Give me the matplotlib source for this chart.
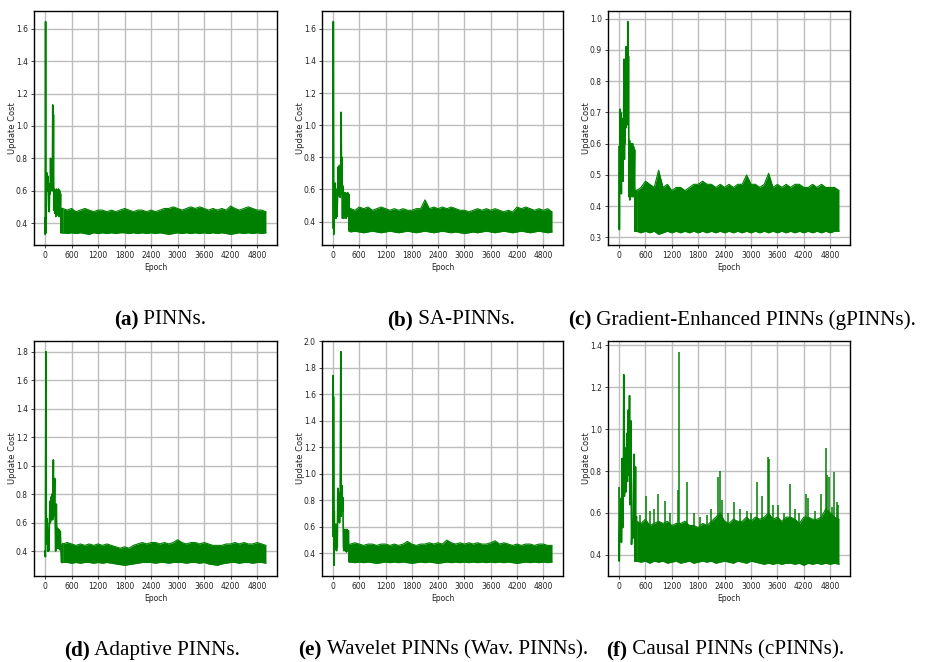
import numpy as np
import matplotlib
matplotlib.use("Agg")
import matplotlib.pyplot as plt
from matplotlib.transforms import IdentityTransform

# ---------------- data ----------------
xticks = [0, 600, 1200, 1800, 2400, 3000, 3600, 4200, 4800]
band_x = np.arange(400, 5001, 100)

# (a) PINNs
a_early_x = [0, 5, 12, 18, 25, 35, 45, 55, 65, 80, 95, 105, 115, 125, 135, 145, 155, 165, 175, 182,
             190, 198, 210, 220, 235, 245, 260, 270, 285, 295, 305, 315, 330, 340, 350, 360, 370, 380, 390, 400]
a_early_y = [0.43, 0.33, 1.645, 0.34, 0.70, 0.62, 0.71, 0.60, 0.69, 0.50, 0.47, 0.64, 0.58, 0.80, 0.62, 0.78,
             0.60, 0.62, 1.13, 0.60, 1.07, 0.48, 0.61, 0.46, 0.60, 0.44, 0.61, 0.45, 0.60, 0.45, 0.61, 0.44,
             0.60, 0.46, 0.58, 0.34, 0.48, 0.34, 0.49, 0.34]
a_hi = [0.49, 0.48, 0.49, 0.47, 0.48, 0.49, 0.48, 0.47, 0.48, 0.48,
        0.47, 0.48, 0.47, 0.48, 0.49, 0.48, 0.47, 0.48, 0.48, 0.47,
        0.48, 0.47, 0.48, 0.49, 0.49, 0.50, 0.49, 0.48, 0.49, 0.50,
        0.49, 0.50, 0.49, 0.48, 0.49, 0.48, 0.49, 0.48, 0.505, 0.49,
        0.48, 0.49, 0.50, 0.49, 0.48, 0.48, 0.47]
a_lo = [0.34, 0.335, 0.34, 0.335, 0.34, 0.335, 0.33, 0.34, 0.335, 0.34,
        0.335, 0.34, 0.335, 0.34, 0.34, 0.335, 0.34, 0.335, 0.34, 0.335,
        0.34, 0.335, 0.34, 0.335, 0.33, 0.335, 0.34, 0.335, 0.34, 0.335,
        0.34, 0.335, 0.34, 0.335, 0.34, 0.335, 0.34, 0.335, 0.33, 0.335,
        0.34, 0.335, 0.34, 0.335, 0.34, 0.335, 0.34]

# (b) SA-PINNs
b_early_x = [0, 8, 20, 28, 36, 44, 52, 68, 80, 90, 105, 120, 135, 150, 165, 180, 188, 195, 202, 210,
             218, 233, 248, 260, 272, 285, 298, 310, 322, 335, 348, 360, 370, 380, 390, 400]
b_early_y = [0.36, 1.645, 0.32, 0.63, 0.50, 0.60, 0.64, 0.42, 0.60, 0.43, 0.55, 0.74, 0.56, 0.75, 0.55,
             0.62, 1.08, 0.60, 0.80, 0.50, 0.42, 0.62, 0.42, 0.58, 0.43, 0.58, 0.42, 0.57, 0.43, 0.58,
             0.44, 0.57, 0.34, 0.47, 0.34, 0.48]
b_hi = [0.48, 0.47, 0.49, 0.48, 0.49, 0.47, 0.48, 0.49, 0.48, 0.47,
        0.48, 0.47, 0.48, 0.47, 0.47, 0.48, 0.48, 0.535, 0.48, 0.49,
        0.48, 0.49, 0.48, 0.49, 0.48, 0.47, 0.47, 0.46, 0.47, 0.48,
        0.47, 0.48, 0.47, 0.48, 0.47, 0.46, 0.47, 0.46, 0.49, 0.48,
        0.49, 0.48, 0.47, 0.48, 0.47, 0.48, 0.46]
b_lo = [0.335, 0.34, 0.335, 0.33, 0.335, 0.34, 0.335, 0.33, 0.335, 0.34,
        0.335, 0.33, 0.335, 0.34, 0.335, 0.33, 0.335, 0.34, 0.335, 0.33,
        0.335, 0.34, 0.335, 0.33, 0.335, 0.33, 0.325, 0.33, 0.335, 0.33,
        0.335, 0.34, 0.335, 0.33, 0.335, 0.34, 0.335, 0.33, 0.335, 0.34,
        0.335, 0.33, 0.335, 0.34, 0.335, 0.33, 0.335]

# (c) Gradient-Enhanced PINNs
c_early_x = [0, 8, 15, 23, 31, 38, 46, 54, 62, 69, 85, 92, 100, 108, 115, 123, 131, 139, 146, 154,
             162, 169, 185, 192, 200, 208, 215, 223, 231, 239, 246, 262, 269, 285, 292, 308, 315, 331,
             339, 354, 362, 375, 388, 400]
c_early_y = [0.59, 0.325, 0.50, 0.71, 0.55, 0.70, 0.52, 0.44, 0.68, 0.50, 0.66, 0.48, 0.64, 0.74, 0.87,
             0.55, 0.85, 0.60, 0.86, 0.65, 0.91, 0.68, 0.88, 0.70, 0.99, 0.66, 0.88, 0.60, 0.43, 0.61,
             0.42, 0.60, 0.43, 0.60, 0.44, 0.60, 0.43, 0.59, 0.44, 0.58, 0.32, 0.45, 0.32, 0.45]
c_hi = [0.45, 0.46, 0.48, 0.47, 0.46, 0.515, 0.46, 0.47, 0.45, 0.46,
        0.46, 0.45, 0.46, 0.47, 0.47, 0.48, 0.47, 0.47, 0.46, 0.47,
        0.46, 0.47, 0.46, 0.47, 0.47, 0.50, 0.47, 0.47, 0.46, 0.47,
        0.505, 0.46, 0.47, 0.46, 0.47, 0.46, 0.47, 0.47, 0.46, 0.46,
        0.47, 0.46, 0.47, 0.46, 0.46, 0.46, 0.45]
c_lo = [0.32, 0.315, 0.32, 0.315, 0.32, 0.31, 0.315, 0.32, 0.315, 0.32,
        0.315, 0.32, 0.315, 0.32, 0.315, 0.32, 0.315, 0.32, 0.315, 0.32,
        0.315, 0.32, 0.315, 0.32, 0.315, 0.32, 0.315, 0.32, 0.315, 0.32,
        0.315, 0.32, 0.315, 0.32, 0.315, 0.32, 0.315, 0.32, 0.315, 0.32,
        0.315, 0.32, 0.315, 0.32, 0.315, 0.32, 0.32]

# (d) Adaptive PINNs
d_early_x = [0, 8, 20, 28, 38, 45, 52, 60, 75, 82, 98, 112, 120, 135, 142, 158, 172, 188, 195, 202,
             218, 225, 240, 255, 270, 285, 300, 315, 330, 345, 360, 375, 385, 392, 400]
d_early_y = [0.40, 0.36, 1.80, 0.53, 0.63, 0.45, 0.60, 0.40, 0.55, 0.40, 0.58, 0.75, 0.60, 0.78, 0.62,
             0.80, 0.62, 1.04, 0.75, 0.65, 0.91, 0.70, 0.40, 0.73, 0.42, 0.56, 0.42, 0.55, 0.41, 0.54,
             0.40, 0.32, 0.44, 0.32, 0.45]
d_hi = [0.45, 0.46, 0.45, 0.44, 0.45, 0.44, 0.45, 0.44, 0.45, 0.44,
        0.45, 0.44, 0.43, 0.42, 0.43, 0.42, 0.44, 0.45, 0.46, 0.45,
        0.46, 0.46, 0.45, 0.46, 0.45, 0.46, 0.48, 0.46, 0.45, 0.46,
        0.46, 0.45, 0.46, 0.45, 0.44, 0.44, 0.44, 0.45, 0.45, 0.46,
        0.45, 0.46, 0.45, 0.45, 0.46, 0.45, 0.44]
d_lo = [0.32, 0.32, 0.315, 0.32, 0.315, 0.32, 0.32, 0.315, 0.32, 0.315,
        0.32, 0.315, 0.31, 0.305, 0.30, 0.305, 0.31, 0.315, 0.32, 0.32,
        0.32, 0.315, 0.32, 0.32, 0.315, 0.32, 0.32, 0.32, 0.315, 0.32,
        0.32, 0.315, 0.32, 0.31, 0.305, 0.30, 0.31, 0.315, 0.32, 0.32,
        0.315, 0.32, 0.32, 0.315, 0.32, 0.32, 0.315]

# (e) Wavelet PINNs
e_early_x = [0, 5, 10, 12, 15, 22, 30, 38, 45, 60, 68, 82, 90, 98, 112, 120, 135, 150, 165, 180,
             188, 195, 210, 218, 225, 240, 248, 262, 278, 292, 308, 322, 338, 352, 368, 382, 392, 400]
e_early_y = [0.53, 1.74, 0.60, 1.58, 0.72, 0.31, 0.72, 0.50, 0.60, 0.43, 0.62, 0.42, 0.60, 0.45, 0.89,
             0.65, 0.86, 0.63, 0.80, 1.92, 0.68, 0.85, 0.91, 0.72, 0.82, 0.45, 0.42, 0.58, 0.42, 0.58,
             0.41, 0.58, 0.42, 0.57, 0.335, 0.46, 0.335, 0.46]
e_hi = [0.47, 0.48, 0.47, 0.46, 0.47, 0.47, 0.46, 0.47, 0.47, 0.46,
        0.47, 0.46, 0.47, 0.49, 0.47, 0.46, 0.47, 0.47, 0.48, 0.47,
        0.48, 0.47, 0.50, 0.48, 0.47, 0.48, 0.47, 0.48, 0.47, 0.48,
        0.47, 0.47, 0.48, 0.495, 0.47, 0.48, 0.47, 0.46, 0.47, 0.46,
        0.47, 0.47, 0.46, 0.47, 0.47, 0.46, 0.46]
e_lo = [0.335, 0.33, 0.335, 0.33, 0.335, 0.33, 0.325, 0.33, 0.335, 0.33,
        0.335, 0.33, 0.335, 0.33, 0.325, 0.33, 0.335, 0.33, 0.335, 0.33,
        0.325, 0.33, 0.335, 0.33, 0.335, 0.33, 0.335, 0.33, 0.335, 0.33,
        0.335, 0.33, 0.335, 0.33, 0.335, 0.33, 0.335, 0.33, 0.325, 0.33,
        0.335, 0.33, 0.335, 0.33, 0.335, 0.33, 0.335]

# (f) Causal PINNs
f_early_x = [0, 5, 20, 35, 50, 55, 70, 85, 100, 108, 123, 139, 154, 177, 192, 208, 223, 239, 254, 270,
             285, 300, 316, 331, 346, 360, 375, 385, 400]
f_early_y = [0.72, 0.37, 0.60, 0.47, 0.67, 0.46, 0.86, 0.53, 0.74, 1.26, 0.68, 0.91, 0.70, 0.98, 0.75,
             1.09, 0.78, 1.16, 0.64, 1.04, 0.45, 0.55, 0.48, 0.75, 0.88, 0.37, 0.82, 0.37, 0.58]
f_hi = [0.56, 0.55, 0.57, 0.54, 0.55, 0.56, 0.55, 0.56, 0.54, 0.55,
        0.55, 0.56, 0.54, 0.54, 0.53, 0.55, 0.54, 0.56, 0.58, 0.60,
        0.56, 0.55, 0.57, 0.56, 0.56, 0.58, 0.56, 0.58, 0.57, 0.58,
        0.60, 0.57, 0.58, 0.56, 0.58, 0.58, 0.57, 0.55, 0.58, 0.58,
        0.57, 0.57, 0.58, 0.62, 0.60, 0.58, 0.57]
f_lo = [0.37, 0.365, 0.37, 0.36, 0.37, 0.365, 0.37, 0.36, 0.365, 0.37,
        0.36, 0.365, 0.37, 0.36, 0.365, 0.37, 0.365, 0.37, 0.36, 0.365,
        0.37, 0.365, 0.36, 0.37, 0.365, 0.36, 0.37, 0.365, 0.36, 0.355,
        0.36, 0.355, 0.36, 0.355, 0.36, 0.36, 0.355, 0.36, 0.35, 0.36,
        0.355, 0.36, 0.355, 0.36, 0.355, 0.36, 0.355]
f_spike_x = [480, 615, 700, 800, 897, 1040, 1150, 1340, 1353, 1550, 1700, 1850, 2000, 2100, 2240,
             2300, 2350, 2480, 2610, 2750, 2900, 3000, 3130, 3260, 3390, 3410, 3500, 3620, 3750, 3875,
             4000, 4100, 4260, 4300, 4450, 4580, 4700, 4735, 4770, 4850, 4895, 4955, 4980]
f_spike_y = [0.59, 0.68, 0.61, 0.62, 0.69, 0.655, 0.60, 0.71, 1.37, 0.75, 0.60, 0.58, 0.59, 0.62, 0.77,
             0.80, 0.66, 0.60, 0.65, 0.62, 0.61, 0.60, 0.75, 0.68, 0.865, 0.86, 0.64, 0.64, 0.60, 0.74,
             0.62, 0.60, 0.69, 0.67, 0.61, 0.69, 0.91, 0.78, 0.77, 0.63, 0.795, 0.65, 0.64]

captions = [("(a)", " PINNs."),
            ("(b)", " SA-PINNs."),
            ("(c)", " Gradient-Enhanced PINNs (gPINNs)."),
            ("(d)", " Adaptive PINNs."),
            ("(e)", " Wavelet PINNs (Wav. PINNs)."),
            ("(f)", " Causal PINNs (cPINNs).")]

panels = [
    (a_early_x, a_early_y, a_hi, a_lo, None, None),
    (b_early_x, b_early_y, b_hi, b_lo, None, None),
    (c_early_x, c_early_y, c_hi, c_lo, None, None),
    (d_early_x, d_early_y, d_hi, d_lo, None, None),
    (e_early_x, e_early_y, e_hi, e_lo, None, None),
    (f_early_x, f_early_y, f_hi, f_lo, f_spike_x, f_spike_y),
]

# ---------------- layout (pixels) ----------------
W, H = 931, 662
cols = [(34, 277), (322, 563), (608, 850)]
rows = [(11, 245), (341, 576)]
cap_pos = [(160, 320), (451, 320), (742, 320), (152, 650), (443, 650), (725, 650)]

GREEN = "#008000"
fig = plt.figure(figsize=(W / 100, H / 100), dpi=100)
fig.patch.set_facecolor("white")

for i, (ex, ey, hi, lo, sx, sy) in enumerate(panels):
    l, r = cols[i % 3]
    t, b = rows[i // 3]
    ax = fig.add_axes([l / W, 1 - b / H, (r - l) / W, (b - t) / H])
    ax.set_axisbelow(True)
    ax.grid(True, color="#bdbdbd", lw=1.0)
    ax.plot(ex, ey, color=GREEN, lw=1.2)
    ax.fill_between(band_x, lo, hi, color=GREEN, lw=0)
    ax.plot(band_x, hi, color=GREEN, lw=0.8)
    ax.plot(band_x, lo, color=GREEN, lw=0.8)
    allv = list(ey) + list(hi) + list(lo)
    if sx is not None:
        ax.vlines(sx, 0.45, sy, color=GREEN, lw=1.1)
        allv += list(sy)
    ymin, ymax = min(allv), max(allv)
    pad = 0.05 * (ymax - ymin)
    ax.set_ylim(ymin - pad, ymax + pad)
    ax.set_xlim(-250, 5250)
    ax.set_xticks(xticks)
    ax.tick_params(labelsize=5.5, length=2.5, width=0.6, pad=2, colors="#222222")
    for s in ax.spines.values():
        s.set_linewidth(1.0)
        s.set_color("black")
    ax.set_xlabel("Epoch", fontsize=5.5, labelpad=2, color="#222222")
    ax.set_ylabel("Update Cost", fontsize=6, color="#222222")
    ax.yaxis.set_label_coords(-17.0 / (r - l), 0.5)

# captions: bold label + regular text, centred as a whole
renderer = fig.canvas.get_renderer()
FS = 15.2
for (bold, rest), (cx, cy) in zip(captions, cap_pos):
    t1 = fig.text(0, 0, bold, family="Liberation Serif", fontweight="bold", fontsize=FS,
                  transform=IdentityTransform(), va="center")
    t2 = fig.text(0, 0, rest, family="Liberation Serif", fontsize=FS,
                  transform=IdentityTransform(), va="center")
    w1 = t1.get_window_extent(renderer).width
    w2 = t2.get_window_extent(renderer).width
    x0 = cx - (w1 + w2) / 2
    yd = H - cy
    t1.set_position((x0, yd))
    t2.set_position((x0 + w1, yd))

fig.savefig("out.png", dpi=100)
